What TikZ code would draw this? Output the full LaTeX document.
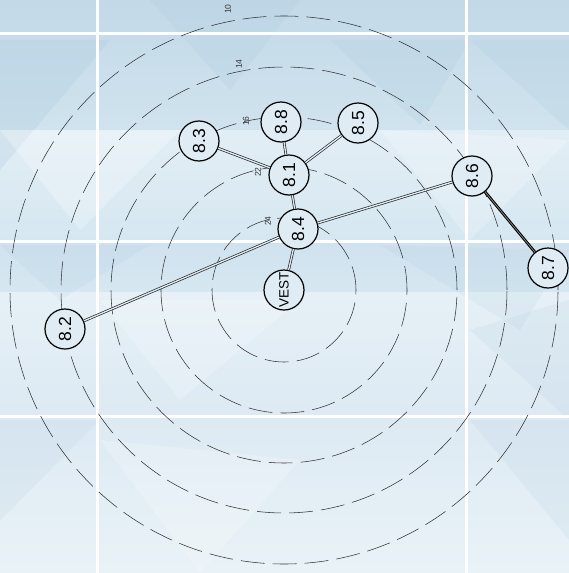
\documentclass[tikz,border=0pt]{standalone}
\usepackage{fontspec}
\setmainfont{Liberation Sans}
\definecolor{bgA}{HTML}{C3D9E8}
\definecolor{bgB}{HTML}{D0E3EE}
\definecolor{bgC}{HTML}{E2EEF5}
\definecolor{bgD}{HTML}{D6E7F1}
\definecolor{bgE}{HTML}{CFE2EE}
\definecolor{bgF}{HTML}{E6F0F6}
\definecolor{bgG}{HTML}{DDEAF3}
\definecolor{bgH}{HTML}{E9F2F7}
\definecolor{patch}{HTML}{A9C8DD}
\definecolor{ringc}{HTML}{333333}
\definecolor{nodefill}{HTML}{DFECF4}
\begin{document}
\begin{tikzpicture}[x=1pt,y=-1pt,
  ring/.style={draw=ringc,line width=0.55pt,dash pattern=on 24pt off 8pt},
  ringlabel/.style={text=ringc,font=\fontsize{8.5}{9}\selectfont,inner sep=0.3pt,rotate=90},
  station/.style={circle,draw=black,line width=1.2pt,fill=nodefill,minimum size=40pt,inner sep=0pt,rotate=90,font=\fontsize{17.5}{18}\selectfont},
  conn/.style={draw=black!85,line width=0.7pt,double=nodefill,double distance=1.3pt},
  connthick/.style={draw=black,line width=1pt,double=black!50,double distance=0.8pt},
  grid/.style={draw=white,line width=3pt}]
\useasboundingbox (0,0) rectangle (569,573);
% background bands
\shade[top color=bgA,bottom color=bgB] (0,0) rectangle (569,130);
\shade[top color=bgC,bottom color=bgD] (0,130) rectangle (569,241);
\shade[top color=bgE,bottom color=bgD] (0,241) rectangle (569,292);
\shade[top color=bgF,bottom color=bgG] (0,292) rectangle (569,416);
\shade[top color=bgG,bottom color=bgH] (0,416) rectangle (569,573);
% low-poly patches
\fill[patch,opacity=0.25] (0,40) -- (110,40) -- (0,170) -- cycle;
\fill[patch,opacity=0.2] (150,0) -- (300,0) -- (230,90) -- cycle;
\fill[patch,opacity=0.2] (330,40) -- (470,40) -- (420,125) -- cycle;
\fill[patch,opacity=0.2] (470,40) -- (569,40) -- (569,130) -- cycle;
\fill[white,opacity=0.25] (0,130) -- (180,130) -- (80,230) -- cycle;
\fill[white,opacity=0.2] (380,130) -- (569,140) -- (470,240) -- cycle;
\fill[patch,opacity=0.15] (0,245) -- (150,245) -- (60,300) -- cycle;
\fill[patch,opacity=0.15] (380,245) -- (569,250) -- (520,330) -- cycle;
\fill[white,opacity=0.2] (100,300) -- (300,300) -- (180,400) -- cycle;
\fill[patch,opacity=0.15] (470,330) -- (569,300) -- (569,420) -- cycle;
\fill[patch,opacity=0.15] (0,420) -- (100,420) -- (0,520) -- cycle;
\fill[patch,opacity=0.15] (470,420) -- (569,420) -- (569,540) -- cycle;
\fill[white,opacity=0.2] (100,440) -- (300,460) -- (200,573) -- cycle;
% white grid
\draw[grid] (97,0) -- (97,573);
\draw[grid] (466,0) -- (466,573);
\draw[grid] (0,33) -- (569,33);
\draw[grid] (0,241) -- (569,241);
\draw[grid] (0,416) -- (569,416);
% rings
\coordinate (ctr) at (284,290);
\draw[ring] (ctr) circle[radius=72pt];
\draw[ring] (ctr) circle[radius=123pt];
\draw[ring] (ctr) circle[radius=173pt];
\draw[ring] (ctr) circle[radius=223pt];
\draw[ring] (ctr) circle[radius=274pt];
% ring labels
\node[ringlabel] (l10) at (228,9) {10};
\node[ringlabel] (l14) at (239,64) {14};
\node[ringlabel] (l16) at (246,121) {16};
\node[ringlabel] (l22) at (258,172) {22};
\node[ringlabel] (l24) at (268,221) {24};
% stations
\node[station] (n83) at (199,141) {8.3};
\node[station] (n88) at (281,122) {8.8};
\node[station] (n85) at (358,123) {8.5};
\node[station] (n81) at (289,175) {8.1};
\node[station] (n84) at (298,229) {8.4};
\node[station,font=\fontsize{13.5}{14}\selectfont] (vest) at (284,290) {VEST};
\node[station] (n86) at (472,176) {8.6};
\node[station] (n87) at (548,268) {8.7};
\node[station] (n82) at (65,329) {8.2};
% connectors
\draw[conn] (n83) -- (n81);
\draw[conn] (n88) -- (n81);
\draw[conn] (n85) -- (n81);
\draw[conn] (n81) -- (n84);
\draw[conn] (n84) -- (vest);
\draw[conn] (n84) -- (n86);
\draw[conn] (n84) -- (n82);
\draw[connthick] (n86) -- (n87);
\end{tikzpicture}
\end{document}
